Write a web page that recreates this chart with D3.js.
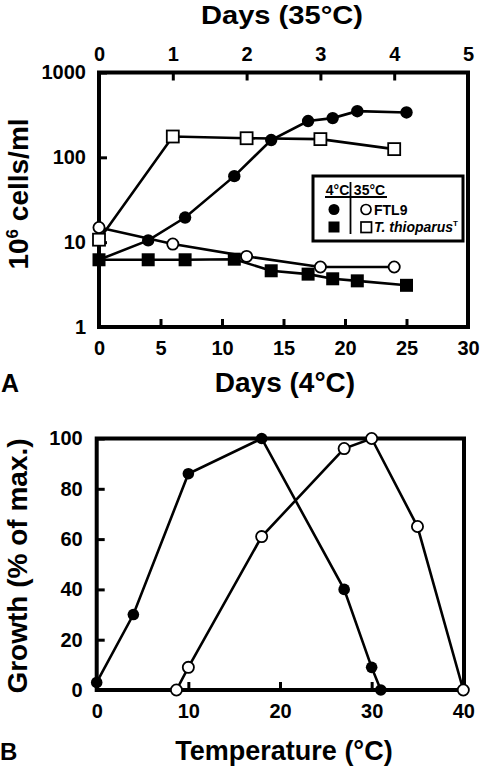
<!DOCTYPE html>
<html><head><meta charset="utf-8">
<script src="https://cdn.jsdelivr.net/npm/d3@7"></script>
<style>
html,body{margin:0;padding:0;background:#fff;}
svg{display:block;font-family:"Liberation Sans",Arial,Helvetica,sans-serif;font-weight:bold;}
</style></head>
<body>
<svg id="chart" width="480" height="766"></svg>
<script>
// ---------- Panel A data ----------
// 4°C cultures (bottom axis, days at 4°C)
const ftl9ColdDays   = [0, 4, 7, 11, 14, 17, 19, 21, 25];
const ftl9ColdCells  = [6.2, 10.5, 19.5, 60, 160, 268, 290, 350, 338];
const thioColdDays   = [0, 4, 7, 11, 14, 17, 19, 21, 25];
const thioColdCells  = [6.2, 6.2, 6.2, 6.3, 4.6, 4.2, 3.7, 3.5, 3.1];
// 35°C cultures (top axis, days at 35°C)
const ftl9WarmDays   = [0, 1, 2, 3, 4];
const ftl9WarmCells  = [14.9, 9.5, 6.8, 5.1, 5.1];
const thioWarmDays   = [0, 1, 2, 3, 4];
const thioWarmCells  = [10.7, 176, 168, 164, 125];
const aBottomTicks = [0, 5, 10, 15, 20, 25, 30];
const aTopTicks    = [0, 1, 2, 3, 4, 5];
const aLeftTicks   = [1, 10, 100, 1000];

// ---------- Panel B data ----------
const bFilledTemp   = [0, 4, 10, 18, 27, 30, 31];
const bFilledGrowth = [3, 30, 86, 100, 40, 9, 0];
const bOpenTemp     = [8.7, 10, 18, 27, 30, 35, 40];
const bOpenGrowth   = [0, 9, 61, 96, 100, 65, 0];
const bBottomTicks = [0, 10, 20, 30, 40];
const bLeftTicks   = [0, 20, 40, 60, 80, 100];

const svg = d3.select("#chart");
const zip = (xs, ys) => xs.map((x, i) => [x, ys[i]]);

function styleAxis(g, fs) {
  g.select(".domain").remove();
  g.selectAll(".tick line").attr("stroke", "#000").attr("stroke-width", 3);
  g.selectAll(".tick text").attr("fill", "#000").attr("font-size", fs)
    .attr("font-weight", "bold").attr("font-family", "Liberation Sans, Arial, sans-serif");
}

// ================= PANEL A =================
const A = {l: 99, r: 468, t: 72.5, b: 327};
const xA   = d3.scaleLinear().domain([0, 30]).range([A.l, A.r]);
const xTop = d3.scaleLinear().domain([0, 5]).range([A.l, A.r]);
const yA   = d3.scaleLog().domain([1, 1000]).range([A.b, A.t]);

const gA = svg.append("g");
gA.append("rect").attr("x", A.l).attr("y", A.t).attr("width", A.r - A.l).attr("height", A.b - A.t)
  .attr("fill", "none").attr("stroke", "#000").attr("stroke-width", 4);

gA.append("g").attr("transform", `translate(0,${A.b})`)
  .call(d3.axisBottom(xA).tickValues(aBottomTicks).tickSize(-8).tickPadding(14).tickFormat(d3.format("d")))
  .call(g => styleAxis(g, 20));
gA.append("g").attr("transform", `translate(0,${A.t})`)
  .call(d3.axisTop(xTop).tickValues(aTopTicks).tickSize(-8).tickPadding(11.5).tickFormat(d3.format("d")))
  .call(g => styleAxis(g, 20));
gA.append("g").attr("transform", `translate(${A.l},0)`)
  .call(d3.axisLeft(yA).tickValues(aLeftTicks).tickSize(-8).tickPadding(13).tickFormat(d3.format("d")))
  .call(g => styleAxis(g, 20));

const lineA  = d3.line().x(d => xA(d[0])).y(d => yA(d[1]));
const lineAT = d3.line().x(d => xTop(d[0])).y(d => yA(d[1]));

const sFC = zip(ftl9ColdDays, ftl9ColdCells);
const sFS = zip(thioColdDays, thioColdCells);
const sOC = zip(ftl9WarmDays, ftl9WarmCells);
const sOS = zip(thioWarmDays, thioWarmCells);

[[sFS, lineA], [sFC, lineA], [sOC, lineAT], [sOS, lineAT]].forEach(([d, ln]) => {
  gA.append("path").attr("d", ln(d)).attr("fill", "none").attr("stroke", "#000").attr("stroke-width", 2.6);
});
// filled squares
gA.selectAll(".fs").data(sFS).enter().append("rect")
  .attr("x", d => xA(d[0]) - 6.5).attr("y", d => yA(d[1]) - 6.5).attr("width", 13).attr("height", 13).attr("fill", "#000");
// filled circles
gA.selectAll(".fc").data(sFC.slice(1)).enter().append("circle")
  .attr("cx", d => xA(d[0])).attr("cy", d => yA(d[1])).attr("r", 6.2).attr("fill", "#000");
// open squares
gA.selectAll(".os").data(sOS).enter().append("rect")
  .attr("x", d => xTop(d[0]) - 6).attr("y", d => yA(d[1]) - 6).attr("width", 12).attr("height", 12)
  .attr("fill", "#fff").attr("stroke", "#000").attr("stroke-width", 1.8);
// open circles
gA.selectAll(".oc").data(sOC).enter().append("circle")
  .attr("cx", d => xTop(d[0])).attr("cy", d => yA(d[1])).attr("r", 5.6)
  .attr("fill", "#fff").attr("stroke", "#000").attr("stroke-width", 1.8);

// axis titles A
svg.append("text").attr("x", 282).attr("y", 24).attr("text-anchor", "middle").attr("font-size", 26)
  .attr("textLength", 162).attr("lengthAdjust", "spacingAndGlyphs").text("Days (35°C)");
svg.append("text").attr("x", 285).attr("y", 392).attr("text-anchor", "middle").attr("font-size", 28).text("Days (4°C)");
svg.append("text").attr("x", 1).attr("y", 392).attr("font-size", 25).text("A");
const yl = svg.append("text").attr("transform", "translate(28,194) rotate(-90)").attr("text-anchor", "middle").attr("font-size", 28);
yl.append("tspan").text("10");
yl.append("tspan").attr("dy", -10).attr("font-size", 17).text("6");
yl.append("tspan").attr("dy", 10).text(" cells/ml");

// legend
const L = {x: 313, y: 176, w: 150, h: 65};
const gL = svg.append("g");
gL.append("rect").attr("x", L.x).attr("y", L.y).attr("width", L.w).attr("height", L.h)
  .attr("fill", "#fff").attr("stroke", "#000").attr("stroke-width", 3);
gL.append("line").attr("x1", 325).attr("x2", 387).attr("y1", 197).attr("y2", 197).attr("stroke", "#000").attr("stroke-width", 1.8);
gL.append("line").attr("x1", 350.5).attr("x2", 350.5).attr("y1", 182).attr("y2", 234).attr("stroke", "#000").attr("stroke-width", 1.8);
gL.append("text").attr("x", 337.5).attr("y", 194.5).attr("text-anchor", "middle").attr("font-size", 14).text("4°C");
gL.append("text").attr("x", 369.5).attr("y", 194.5).attr("text-anchor", "middle").attr("font-size", 14).text("35°C");
gL.append("circle").attr("cx", 334).attr("cy", 209.5).attr("r", 5.5).attr("fill", "#000");
gL.append("rect").attr("x", 328.5).attr("y", 221.5).attr("width", 11).attr("height", 11).attr("fill", "#000");
gL.append("circle").attr("cx", 366).attr("cy", 209.5).attr("r", 5).attr("fill", "#fff").attr("stroke", "#000").attr("stroke-width", 1.7);
gL.append("rect").attr("x", 361).attr("y", 222).attr("width", 10.5).attr("height", 10.5).attr("fill", "#fff").attr("stroke", "#000").attr("stroke-width", 1.7);
gL.append("text").attr("x", 374).attr("y", 214.5).attr("font-size", 14).text("FTL9");
const lt = gL.append("text").attr("x", 374).attr("y", 232).attr("font-size", 14);
lt.append("tspan").attr("font-style", "italic").text("T. thioparus");
lt.append("tspan").attr("font-size", 8).attr("dy", -6).text("T");

// ================= PANEL B =================
const B = {l: 96.7, r: 464, t: 438.5, b: 690};
const xB = d3.scaleLinear().domain([0, 40]).range([B.l, B.r - 0.7]);
const yB = d3.scaleLinear().domain([0, 100]).range([B.b, B.t]);
const gB = svg.append("g");
gB.append("rect").attr("x", B.l).attr("y", B.t).attr("width", B.r - B.l).attr("height", B.b - B.t)
  .attr("fill", "none").attr("stroke", "#000").attr("stroke-width", 4);
gB.append("g").attr("transform", `translate(0,${B.b})`)
  .call(d3.axisBottom(xB).tickValues(bBottomTicks).tickSize(-8).tickPadding(14).tickFormat(d3.format("d")))
  .call(g => styleAxis(g, 20));
gB.append("g").attr("transform", `translate(${B.l},0)`)
  .call(d3.axisLeft(yB).tickValues(bLeftTicks).tickSize(-8).tickPadding(14).tickFormat(d3.format("d")))
  .call(g => styleAxis(g, 20));

const lineB = d3.line().x(d => xB(d[0])).y(d => yB(d[1]));
const bF = zip(bFilledTemp, bFilledGrowth);
const bO = zip(bOpenTemp, bOpenGrowth);
[bF, bO].forEach(d => gB.append("path").attr("d", lineB(d)).attr("fill", "none").attr("stroke", "#000").attr("stroke-width", 2.6));
gB.selectAll(".bf").data(bF).enter().append("circle")
  .attr("cx", d => xB(d[0])).attr("cy", d => yB(d[1])).attr("r", 5.8).attr("fill", "#000");
gB.selectAll(".bo").data(bO).enter().append("circle")
  .attr("cx", d => xB(d[0])).attr("cy", d => yB(d[1])).attr("r", 5.6)
  .attr("fill", "#fff").attr("stroke", "#000").attr("stroke-width", 1.8);

svg.append("text").attr("x", 284).attr("y", 760).attr("text-anchor", "middle").attr("font-size", 27).text("Temperature (°C)");
svg.append("text").attr("x", 0).attr("y", 760).attr("font-size", 24).text("B");
svg.append("text").attr("transform", "translate(27,566) rotate(-90)").attr("text-anchor", "middle").attr("font-size", 28).text("Growth (% of max.)");
</script>
</body></html>
